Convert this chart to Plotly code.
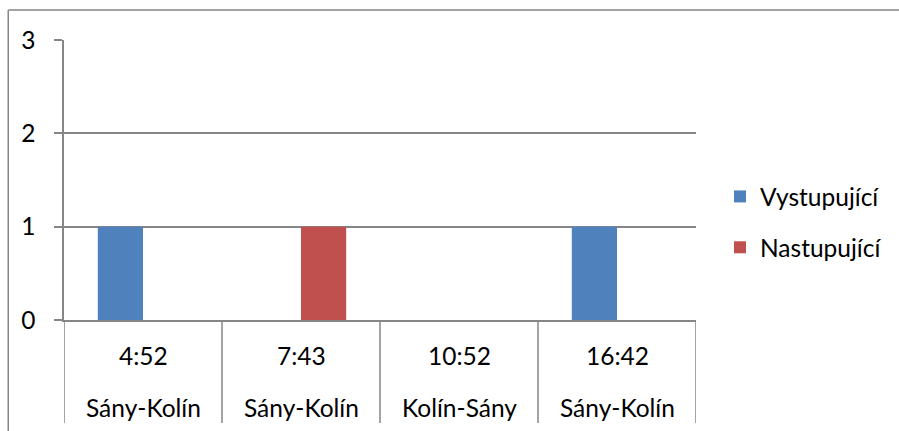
import plotly.graph_objects as go

# Trips: departure time and route
times = ["4:52", "7:43", "10:52", "16:42"]
routes = ["Sány-Kolín", "Sány-Kolín", "Kolín-Sány", "Sány-Kolín"]

# Passenger counts per trip
vystupujici = [1, 0, 0, 1]
nastupujici = [0, 1, 0, 0]

y_ticks = [0, 1, 2, 3]

FONT = "Lato"
FS = 24.5
GRAY = "#868686"

fig = go.Figure()
fig.add_trace(go.Bar(name="Vystupující", x=times, y=vystupujici,
                     marker=dict(color="#4F81BD", line=dict(width=0)),
                     legendgroup="a"))
fig.add_trace(go.Bar(name="Nastupující", x=times, y=nastupujici,
                     marker=dict(color="#C0504D", line=dict(width=0)),
                     legendgroup="b"))

annotations = []
for t, r in zip(times, routes):
    annotations.append(dict(x=t, y=-0.125, xref="x", yref="paper", text=t,
                            showarrow=False, font=dict(family=FONT, size=FS, color="black"),
                            xanchor="center", yanchor="middle"))
    annotations.append(dict(x=t, y=-0.314, xref="x", yref="paper", text=r,
                            showarrow=False, font=dict(family=FONT, size=FS, color="black"),
                            xanchor="center", yanchor="middle"))

shapes = []
# dividers between category cells
for i in range(len(times) + 1):
    shapes.append(dict(type="line", xref="x", yref="paper",
                       x0=i - 0.5, x1=i - 0.5, y0=0, y1=-0.368,
                       line=dict(color=GRAY, width=1.5)))
# chart border (left and top edges)
shapes.append(dict(type="line", xref="paper", yref="paper",
                   x0=-0.0882, x1=-0.0882, y0=1.107, y1=-0.45,
                   line=dict(color=GRAY, width=1.5)))
shapes.append(dict(type="line", xref="paper", yref="paper",
                   x0=-0.0882, x1=1.4, y0=1.107, y1=1.107,
                   line=dict(color=GRAY, width=1.5)))

fig.update_layout(
    width=899, height=431,
    margin=dict(l=64, r=200, t=40, b=111),
    paper_bgcolor="white", plot_bgcolor="white",
    barmode="group", bargap=0.428, bargroupgap=0,
    font=dict(family=FONT, size=FS, color="black"),
    showlegend=True,
    legend=dict(x=1.038, y=0.35, xanchor="left", yanchor="middle",
                traceorder="grouped", tracegroupgap=16,
                font=dict(family=FONT, size=FS, color="black"),
                bgcolor="rgba(0,0,0,0)"),
    annotations=annotations,
    shapes=shapes,
    xaxis=dict(type="category", range=[-0.5, 3.5], showticklabels=False,
               ticks="", showgrid=False, showline=True, linecolor=GRAY,
               linewidth=1.5, zeroline=False, fixedrange=True),
    yaxis=dict(range=[0, 3], tickvals=y_ticks, ticks="outside", ticklen=8,
               tickcolor=GRAY, tickwidth=1.5, showgrid=True, gridcolor=GRAY,
               gridwidth=1.5, showline=True, linecolor=GRAY, linewidth=1.5,
               zeroline=False, ticklabelstandoff=14,
               tickfont=dict(family=FONT, size=FS, color="black")),
)

fig.write_html("out.html")
